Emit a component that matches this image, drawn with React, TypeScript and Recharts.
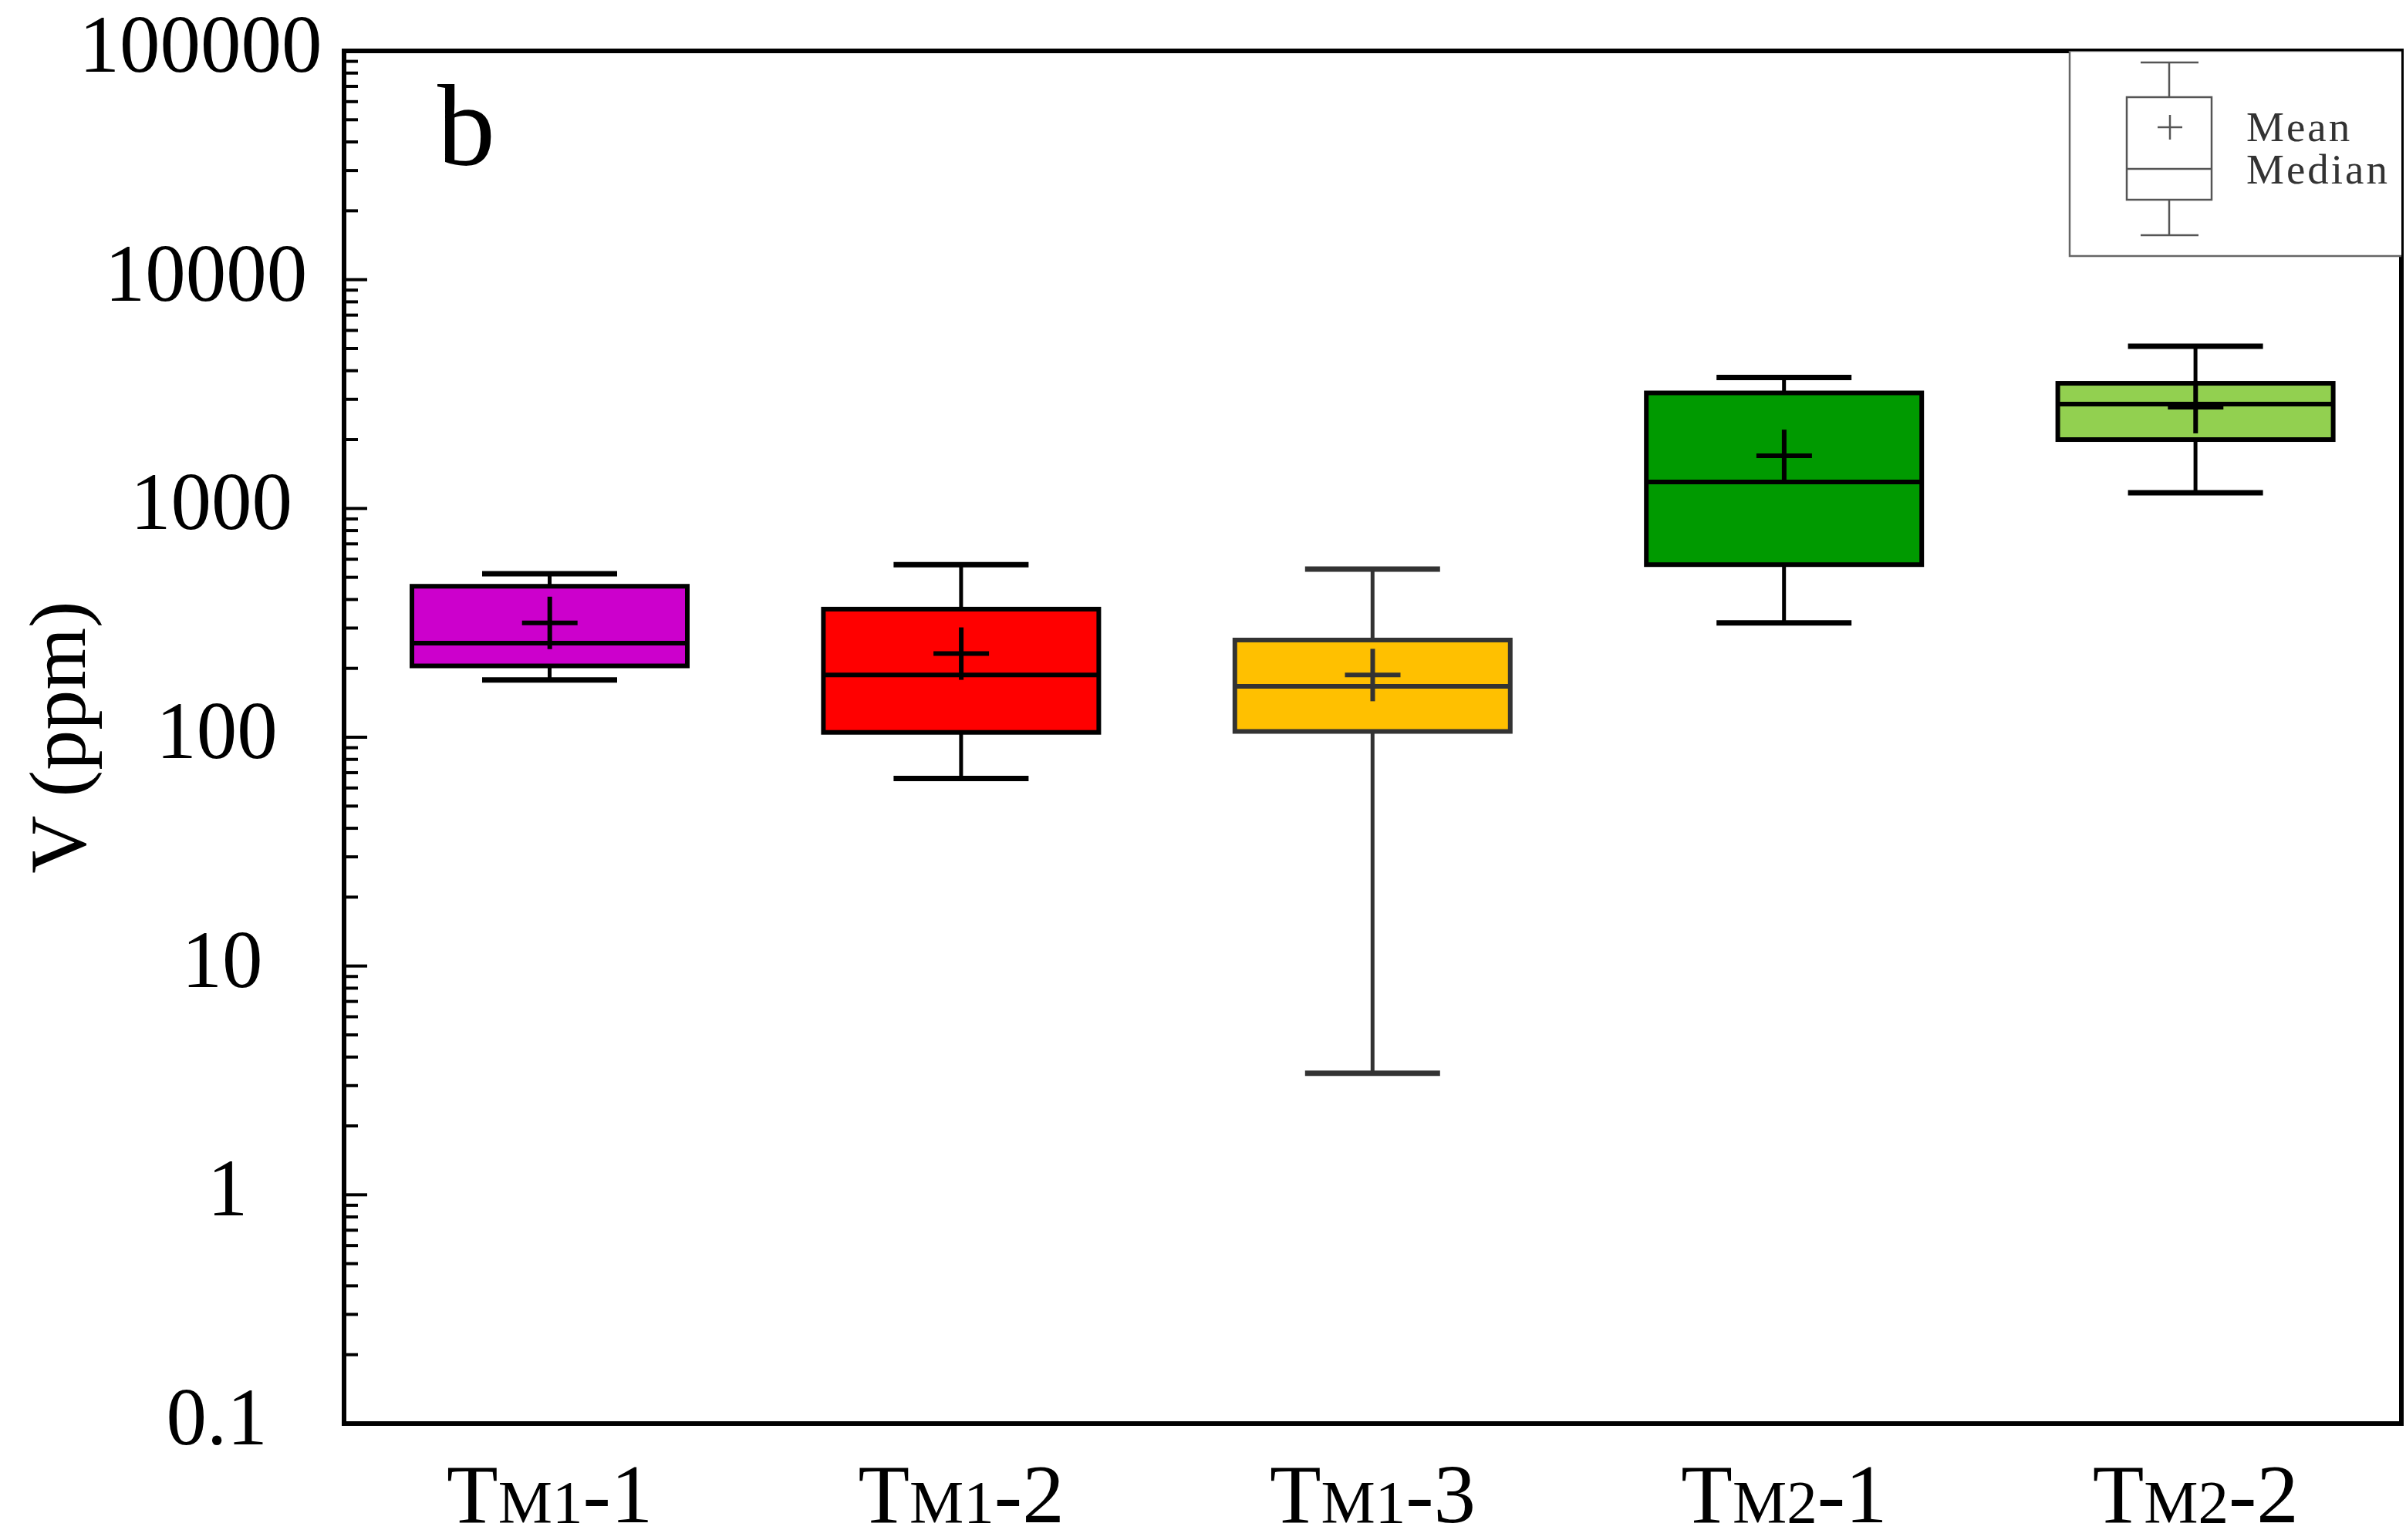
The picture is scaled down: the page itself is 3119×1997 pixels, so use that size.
import React from "react"
import { Bar, Cell, ComposedChart, Legend, ReferenceArea, Scatter, XAxis, YAxis } from "recharts"

const categories = ["TM1-1", "TM1-2", "TM1-3", "TM2-1", "TM2-2"]
const whiskerLow = [178, 66, 3.4, 316, 1171]
const boxLow = [205, 105, 106, 568, 2000]
const medians = [258, 187, 167, 1306, 2858]
const means = [316, 232, 187, 1698, 2773]
const boxHigh = [457, 363, 266, 3199, 3524]
const whiskerHigh = [518, 568, 543, 3733, 5117]

const majorTicks = [0.1, 1, 10, 100, 1000, 10000, 100000]
const minorTicks = majorTicks
  .slice(0, -1)
  .flatMap((d) => [2, 3, 4, 5, 6, 7, 8, 9].map((m) => +(d * m).toPrecision(3)))

const boxColors = ["#cc00cc", "#ff0000", "#ffc000", "#009a00", "#92d050"]
const lineColors = ["#000", "#000", "#333", "#000", "#000"]

const data = categories.map((name, i) => ({
  name,
  whisker: [whiskerLow[i], whiskerHigh[i]],
  box: [boxLow[i], boxHigh[i]],
  median: medians[i],
  mean: means[i],
}))

const SERIF = "'Liberation Serif', 'Times New Roman', serif"
const BOX_W = 357
const CAP_W = 175

const Whisker = (props: any) => {
  const { x, y, width, height, stroke } = props
  const top = Math.min(y, y + height)
  const bottom = Math.max(y, y + height)
  const cx = x + width / 2
  return (
    <g stroke={stroke} fill="none">
      <line x1={cx} x2={cx} y1={top} y2={bottom} strokeWidth={5} />
      <line x1={x} x2={x + width} y1={top} y2={top} strokeWidth={7} />
      <line x1={x} x2={x + width} y1={bottom} y2={bottom} strokeWidth={7} />
    </g>
  )
}

const BoxRect = (props: any) => {
  const { x, y, width, height, fill, stroke } = props
  const top = Math.min(y, y + height)
  return <rect x={x} y={top} width={width} height={Math.abs(height)} fill={fill} stroke={stroke} strokeWidth={6} />
}

const MedianLine = (props: any) => {
  const { cx, cy, stroke } = props
  return <line x1={cx - BOX_W / 2} x2={cx + BOX_W / 2} y1={cy} y2={cy} stroke={stroke} strokeWidth={6} />
}

const MeanCross = (props: any) => {
  const { cx, cy, stroke } = props
  return (
    <g stroke={stroke} strokeWidth={6}>
      <line x1={cx - 36} x2={cx + 36} y1={cy} y2={cy} />
      <line x1={cx} x2={cx} y1={cy - 34} y2={cy + 34} />
    </g>
  )
}

const YTick = (props: any) => {
  const { x, y, payload } = props
  const v = payload.value
  const major = majorTicks.includes(v)
  const text = String(v)
  return (
    <g>
      <line x1={x} x2={x + (major ? 30 : 18)} y1={y} y2={y} stroke="#000" strokeWidth={4} />
      {major && (
        <text x={x - 144 - 7 * text.length} y={y + 27} textAnchor="middle" fontSize={105} fontFamily={SERIF} fill="#000">
          {text}
        </text>
      )}
    </g>
  )
}

const XTick = (props: any) => {
  const { x, y, payload } = props
  const label: string = payload.value
  return (
    <text x={x} y={y + 98} textAnchor="middle" fontSize={109} fontFamily={SERIF} fill="#000">
      <tspan>{label.slice(0, 1)}</tspan>
      <tspan fontSize={79}>{label.slice(1, 3)}</tspan>
      <tspan>{label.slice(3)}</tspan>
    </text>
  )
}

const LegendBox = () => (
  <svg width={432} height={268} style={{ display: "block" }}>
    <rect x={2} y={0} width={440} height={266} fill="#fff" stroke="#666" strokeWidth={2.5} />
    <g stroke="#555" strokeWidth={2.5} fill="none">
      <line x1={94} x2={169} y1={15} y2={15} />
      <line x1={131} x2={131} y1={15} y2={60} />
      <rect x={76} y={60} width={110} height={133} />
      <line x1={76} x2={186} y1={153} y2={153} />
      <line x1={131} x2={131} y1={193} y2={239} />
      <line x1={94} x2={169} y1={239} y2={239} />
      <line x1={116} x2={148} y1={99} y2={99} />
      <line x1={132} x2={132} y1={83} y2={115} />
    </g>
    <text x={231} y={117} fontSize={55} fontFamily={SERIF} fill="#333" letterSpacing={3}>
      Mean
    </text>
    <text x={231} y={172} fontSize={55} fontFamily={SERIF} fill="#333" letterSpacing={3}>
      Median
    </text>
  </svg>
)

export default function App() {
  return (
    <div style={{ position: "absolute", left: 0, top: 0, width: 3119, height: 1997, background: "#fff" }}>
      <ComposedChart width={3119} height={1997} data={data} margin={{ top: 66, right: 6, bottom: 0, left: 0 }}>
        <XAxis
          xAxisId="main"
          dataKey="name"
          type="category"
          axisLine={false}
          tickLine={false}
          tickSize={0}
          tickMargin={0}
          height={151}
          interval={0}
          tick={<XTick />}
        />
        <XAxis xAxisId="box" dataKey="name" type="category" hide />
        <YAxis
          scale="log"
          type="number"
          domain={[0.1, 100000]}
          allowDataOverflow
          ticks={[...majorTicks, ...minorTicks].sort((a, b) => a - b)}
          interval={0}
          width={446}
          axisLine={false}
          tickLine={false}
          tickSize={0}
          tickMargin={0}
          tick={<YTick />}
          label={({ viewBox }: any) => (
            <text
              transform={`translate(${viewBox.x + 110}, ${viewBox.y + viewBox.height / 2}) rotate(-90)`}
              textAnchor="middle"
              fontSize={104}
              fontFamily={SERIF}
              fill="#000"
            >
              V (ppm)
            </text>
          )}
        />
        <Legend
          layout="horizontal"
          verticalAlign="middle"
          align="center"
          content={() => <LegendBox />}
          wrapperStyle={{ left: 2681, top: 66, width: 432, height: 268, bottom: "auto", right: "auto" }}
        />
        <Bar xAxisId="main" dataKey="whisker" barSize={CAP_W} shape={<Whisker />} isAnimationActive={false}>
          {data.map((d, i) => (
            <Cell key={d.name} stroke={lineColors[i]} />
          ))}
        </Bar>
        <Bar xAxisId="box" dataKey="box" barSize={BOX_W} shape={<BoxRect />} isAnimationActive={false}>
          {data.map((d, i) => (
            <Cell key={d.name} fill={boxColors[i]} stroke={lineColors[i]} />
          ))}
        </Bar>
        <Scatter xAxisId="box" dataKey="median" shape={<MedianLine />} isAnimationActive={false}>
          {data.map((d, i) => (
            <Cell key={d.name} stroke={lineColors[i]} />
          ))}
        </Scatter>
        <Scatter xAxisId="box" dataKey="mean" shape={<MeanCross />} isAnimationActive={false}>
          {data.map((d, i) => (
            <Cell key={d.name} stroke={lineColors[i]} />
          ))}
        </Scatter>
        <ReferenceArea
          xAxisId="main"
          y1={0.1}
          y2={100000}
          fill="none"
          fillOpacity={0}
          stroke="#000"
          strokeWidth={6}
          ifOverflow="visible"
          label={({ viewBox }: any) => (
            <text x={viewBox.x + 121} y={viewBox.y + 148} fontSize={150} fontFamily={SERIF} fill="#000">
              b
            </text>
          )}
        />
      </ComposedChart>
    </div>
  )
}
